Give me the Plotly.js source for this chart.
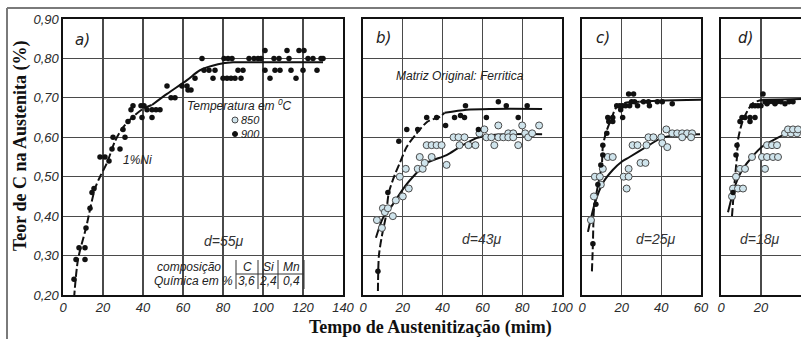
<!DOCTYPE html>
<html>
<head>
<meta charset="utf-8">
<script src="https://cdn.plot.ly/plotly-3.0.1.min.js"></script>
<style>html,body{margin:0;padding:0;background:#fff;}#chart{width:801px;height:339px;}</style>
</head>
<body>
<div id="chart"></div>
<script>
// ---------------- DATA ----------------
// Panel a) d=55µ, 900 °C
const aX900 = [5.5,6.5,8,11,11,11.5,13.5,14.5,15.5,18.5,21,23,24.5,25,28.5,30,31,32.5,34,35,35,39,40.5,39.5,42,44.5,44.5,46.5,48.5,52,54,56,59.5,62,62.5,64,66,69.5,70.5,73,75,76,80.5,82.5,84.5,80,82,84,86,87.5,90,89,93,95.5,97.5,99,101,101,103.5,105.5,108,106,108.5,112,113,114,116.5,118,120.5,120,122.5,125,127,129,130];
const aY900 = [0.24,0.29,0.32,0.32,0.29,0.37,0.42,0.46,0.47,0.55,0.55,0.54,0.57,0.60,0.57,0.62,0.60,0.64,0.67,0.68,0.65,0.68,0.68,0.65,0.67,0.67,0.65,0.67,0.67,0.73,0.70,0.70,0.73,0.73,0.72,0.72,0.75,0.80,0.77,0.77,0.75,0.77,0.80,0.80,0.80,0.75,0.75,0.75,0.75,0.77,0.77,0.75,0.80,0.80,0.80,0.80,0.82,0.77,0.75,0.80,0.80,0.77,0.77,0.82,0.80,0.77,0.75,0.82,0.82,0.77,0.80,0.80,0.77,0.80,0.80];
const aCurveDashX = [5.5,7.5,11.5,16,18.5,22,26,30,35,40,44.5];
const aCurveDashY = [0.19,0.29,0.37,0.47,0.50,0.535,0.59,0.625,0.652,0.672,0.682];
const aCurveX = [44.5,52,62,68.5,77.5,85,100,130];
const aCurveY = [0.682,0.71,0.745,0.77,0.785,0.79,0.79,0.79];

// Panel b) d=43µ
const bX900 = [7.5,12.5,18,22,27.5,32,37,41.5,46,49,51,51.5,58,62,68,72,78,82.5];
const bY900 = [0.26,0.46,0.59,0.62,0.62,0.65,0.65,0.63,0.65,0.655,0.65,0.68,0.62,0.65,0.69,0.68,0.65,0.68];
const bX850 = [7,9.5,10,11,12.5,15,16.5,20,23,18.5,21.5,27.5,30,31,42,28.5,34.5,32,34.5,37,39.5,45.5,48,51,48.5,53,56.5,58.5,61,62,64.5,66,68,68,70.5,73,75.5,73,75.5,78,80,81.5,83,85,88.5];
const bY850 = [0.39,0.37,0.42,0.41,0.42,0.40,0.44,0.45,0.47,0.50,0.52,0.52,0.52,0.535,0.53,0.55,0.55,0.58,0.58,0.58,0.58,0.60,0.60,0.60,0.58,0.58,0.58,0.61,0.62,0.60,0.60,0.58,0.63,0.60,0.60,0.61,0.61,0.60,0.60,0.58,0.63,0.61,0.60,0.61,0.63];
const bCurve900DashX = [7.5,8,9.5,11.5,13,16,18.5,22,27,32.5,38.5,41];
const bCurve900DashY = [0.21,0.30,0.35,0.40,0.46,0.505,0.535,0.576,0.61,0.64,0.652,0.662];
const bCurve900X = [41,52,65,90];
const bCurve900Y = [0.662,0.67,0.672,0.672];
const bCurve850X = [6.5,10,15,21,27,32,42,48.5,57,65,90];
const bCurve850Y = [0.345,0.395,0.43,0.475,0.51,0.535,0.555,0.575,0.598,0.606,0.608];

// Panel c) d=25µ
const cX900 = [5.5,7,8,9.5,10.5,10.5,12.5,13.5,15.5,13,15.5,20.5,19.5,17.5,19,20.5,22,24,25,26.5,23.5,26,28,31,33.5,34,38,40.5,45.5];
const cY900 = [0.33,0.43,0.48,0.53,0.555,0.58,0.61,0.64,0.64,0.65,0.65,0.65,0.67,0.68,0.68,0.68,0.68,0.68,0.69,0.69,0.71,0.71,0.68,0.69,0.69,0.68,0.69,0.69,0.685];
const cX850 = [4.5,6,6.5,9,9.5,10.5,13,15.5,21,23.5,22.5,23.5,29.5,32,25.5,28,32.5,33.5,36,40,40.5,43,42.5,45.5,48,50.5,53,55.5,50.5,55];
const cY850 = [0.39,0.45,0.50,0.50,0.48,0.52,0.55,0.55,0.50,0.50,0.47,0.52,0.535,0.535,0.58,0.58,0.58,0.60,0.60,0.60,0.585,0.575,0.62,0.61,0.61,0.61,0.61,0.61,0.60,0.60];
const cCurve900DashX = [5,5.5,6,7,8.5,10,10.5,12,15,17.5,22.5,29];
const cCurve900DashY = [0.26,0.33,0.415,0.45,0.49,0.53,0.576,0.61,0.65,0.677,0.688,0.69];
const cCurve900X = [29,40,60];
const cCurve900Y = [0.69,0.693,0.695];
const cCurve850X = [3,6.5,10.5,15.5,20,24,32.5,40,47.5,59.5];
const cCurve850Y = [0.36,0.433,0.484,0.517,0.538,0.55,0.576,0.598,0.606,0.608];

// Panel d) d=18µ
const dX900 = [6,7.5,8,9.5,14.5,10.5,12,14.5,17,15.5,17,18.5,20,21,22,23,24,26,27,28,30,32,34,36];
const dY900 = [0.46,0.555,0.58,0.64,0.64,0.65,0.65,0.65,0.65,0.68,0.68,0.68,0.68,0.71,0.69,0.685,0.69,0.69,0.685,0.69,0.69,0.685,0.69,0.69];
const dX850 = [5.5,6,8.5,11,7.5,9.5,12,22,15.5,20.5,23,26,28.5,23,25.5,28,32,35,38,33.5,36,38.5];
const dY850 = [0.45,0.47,0.47,0.47,0.50,0.52,0.52,0.52,0.55,0.55,0.55,0.55,0.55,0.58,0.58,0.58,0.61,0.61,0.61,0.62,0.62,0.62];
const dCurve900DashX = [5.5,6.5,7.5,8,8.5,10.5,13,16,21];
const dCurve900DashY = [0.40,0.467,0.525,0.55,0.593,0.636,0.665,0.687,0.695];
const dCurve900X = [21,30,40];
const dCurve900Y = [0.695,0.696,0.697];
const dCurve850X = [3.5,5.5,8,11,15.5,20.5,28,33,40];
const dCurve850Y = [0.41,0.45,0.49,0.52,0.55,0.576,0.598,0.61,0.624];

// Tick labels
const yTickVals = [0.2,0.3,0.4,0.5,0.6,0.7,0.8,0.9];
const yTickText = ["0,20","0,30","0,40","0,50","0,60","0,70","0,80","0,90"];
const aTickVals = [0,20,40,60,80,100,120,140];
const aTickText = ["0","20","40","60","80","100","120","140"];
const bTickVals = [0,20,40,60,80,100];
const bTickText = ["0","20","40","60","80","100"];
const cTickVals = [0,20,40,60];
const cTickText = ["0","20","40","60"];
const dTickVals = [0,20,40];
const dTickText = ["0","20","40"];

// ---------------- STYLE ----------------
const W = 801, H = 339;
const px = x => x / W;
const py = y => 1 - y / H;
const black = '#111';
const blueFill = '#cfe4ec';
const blueLine = '#4a4a4a';
const tickFont = {family: 'Liberation Sans Narrow, Liberation Sans, Arial, sans-serif', size: 13, color: '#2a2a2a', style: 'italic'};
const noteFont = {family: 'Liberation Sans, Arial, sans-serif', size: 12, color: '#222', style: 'italic'};

function pts(x, y, xa, ya, kind) {
  const m = kind === 900
    ? {size: 5.5, color: black}
    : {size: 7, color: blueFill, line: {color: blueLine, width: 1}};
  return {x, y, xaxis: xa, yaxis: ya, type: 'scatter', mode: 'markers', marker: m, showlegend: false, hoverinfo: 'skip'};
}
function curve(x, y, xa, ya, dashed) {
  return {x, y, xaxis: xa, yaxis: ya, type: 'scatter', mode: 'lines',
    line: {color: black, width: 2, shape: 'spline', smoothing: 0.8, dash: dashed ? '8px,3px' : 'solid'},
    showlegend: false, hoverinfo: 'skip'};
}

const traces = [
  curve(aCurveDashX, aCurveDashY, 'x', 'y', true),
  curve(aCurveX, aCurveY, 'x', 'y', false),
  pts(aX900, aY900, 'x', 'y', 900),

  curve(bCurve850X, bCurve850Y, 'x2', 'y2', false),
  curve(bCurve900DashX, bCurve900DashY, 'x2', 'y2', true),
  curve(bCurve900X, bCurve900Y, 'x2', 'y2', false),
  pts(bX850, bY850, 'x2', 'y2', 850),
  pts(bX900, bY900, 'x2', 'y2', 900),

  curve(cCurve850X, cCurve850Y, 'x3', 'y3', false),
  curve(cCurve900DashX, cCurve900DashY, 'x3', 'y3', true),
  curve(cCurve900X, cCurve900Y, 'x3', 'y3', false),
  pts(cX850, cY850, 'x3', 'y3', 850),
  pts(cX900, cY900, 'x3', 'y3', 900),

  curve(dCurve850X, dCurve850Y, 'x4', 'y4', false),
  curve(dCurve900DashX, dCurve900DashY, 'x4', 'y4', true),
  curve(dCurve900X, dCurve900Y, 'x4', 'y4', false),
  pts(dX850, dY850, 'x4', 'y4', 850),
  pts(dX900, dY900, 'x4', 'y4', 900)
];

const yDom = [py(295), py(19)];
function xax(dom, range, tv, tt, anchor) {
  return {domain: dom, range: range, anchor: anchor, tickmode: 'array', tickvals: tv, ticktext: tt,
    showgrid: true, gridcolor: '#4a4a4a', gridwidth: 1.2, zeroline: false,
    showline: true, linecolor: '#111', linewidth: 1.6, mirror: true,
    ticks: '', tickfont: tickFont, fixedrange: true};
}
function yax(anchor, labels) {
  return {domain: yDom, range: [0.2, 0.9], anchor: anchor, tickmode: 'array', tickvals: yTickVals, ticktext: yTickText,
    showticklabels: labels, showgrid: true, gridcolor: '#4a4a4a', gridwidth: 1.2, zeroline: false,
    showline: true, linecolor: '#111', linewidth: 1.6, mirror: true,
    ticks: '', tickfont: tickFont, fixedrange: true};
}

const ann = (x, y, text, font, extra) => Object.assign({xref: 'paper', yref: 'paper', x: px(x), y: py(y), text, showarrow: false, font, xanchor: 'center', yanchor: 'middle'}, extra || {});
const letterFont = {family: 'DejaVu Sans, sans-serif', size: 15, color: '#222', style: 'italic'};
const sizeFont = {family: 'Liberation Sans Narrow, Liberation Sans, sans-serif', size: 14, color: '#333', style: 'italic'};
const titleFont = {family: 'Liberation Serif, Times New Roman, serif', size: 18, color: '#111', weight: 'bold'};
const smallNote = Object.assign({}, noteFont, {size: 11});

const annotations = [
  ann(20, 146, 'Teor de C na Austenita (%)', titleFont, {textangle: -90}),
  ann(430, 327, 'Tempo de Austenitização (mim)', titleFont),
  ann(82, 40, 'a)', letterFont),
  ann(383, 38, 'b)', letterFont),
  ann(603, 38, 'c)', letterFont),
  ann(745, 38, 'd)', letterFont),
  ann(185, 105, 'Temperatura em <sup>0</sup>C', noteFont, {xanchor: 'left'}),
  ann(239, 120, '850', smallNote, {xanchor: 'left'}),
  ann(239, 134, '900', smallNote, {xanchor: 'left'}),
  ann(137, 160, '1%Ni', noteFont),
  ann(224, 241, 'd=55μ', sizeFont),
  ann(482, 239, 'd=43μ', sizeFont),
  ann(656, 239, 'd=25μ', sizeFont),
  ann(760, 239, 'd=18μ', sizeFont),
  ann(460, 76, 'Matriz Original: Ferritica', noteFont),
  ann(189, 267, 'composição', noteFont),
  ann(193, 281, 'Química em %', noteFont),
  ann(248, 267, 'C', noteFont),
  ann(268, 267, 'Si', noteFont),
  ann(291, 267, 'Mn', noteFont),
  ann(247, 281, '3,6', noteFont),
  ann(268, 281, '2,4', noteFont),
  ann(291, 281, '0,4', noteFont)
];

const lineP = (x0, y0, x1, y1, color, width) => ({type: 'line', xref: 'paper', yref: 'paper', x0: px(x0), y0: py(y0), x1: px(x1), y1: py(y1), line: {color, width}});
const shapes = [
  // outer frame of the figure (top and left edges)
  lineP(7, 8, 801, 8, '#7a7a7a', 2),
  lineP(7, 8, 7, 339, '#7a7a7a', 2),
  // composition table rules
  lineP(236, 260, 236, 289, '#333', 1),
  lineP(258, 260, 258, 289, '#333', 1),
  lineP(278, 260, 278, 289, '#333', 1),
  lineP(304, 260, 304, 289, '#333', 1),
  lineP(236, 274, 304, 274, '#333', 1),
  // legend keys
  {type: 'circle', xref: 'paper', yref: 'paper', x0: px(232), x1: px(238), y0: py(123), y1: py(117), fillcolor: blueFill, line: {color: blueLine, width: 1}},
  {type: 'circle', xref: 'paper', yref: 'paper', x0: px(232.5), x1: px(237.5), y0: py(136.5), y1: py(131.5), fillcolor: black, line: {color: black, width: 1}}
];

const layout = {
  width: W, height: H,
  margin: {l: 0, r: 0, t: 0, b: 0},
  paper_bgcolor: '#fff', plot_bgcolor: '#fff',
  showlegend: false,
  xaxis: xax([px(63), px(343)], [0, 140], aTickVals, aTickText, 'y'),
  yaxis: yax('x', true),
  xaxis2: xax([px(363), px(562)], [0, 100], bTickVals, bTickText, 'y2'),
  yaxis2: yax('x2', false),
  xaxis3: xax([px(582), px(701)], [0, 60], cTickVals, cTickText, 'y3'),
  yaxis3: yax('x3', false),
  xaxis4: xax([px(721), 1], [0, 40], dTickVals, dTickText, 'y4'),
  yaxis4: yax('x4', false),
  annotations, shapes
};

Plotly.newPlot('chart', traces, layout, {staticPlot: true, displayModeBar: false});
</script>
</body>
</html>
